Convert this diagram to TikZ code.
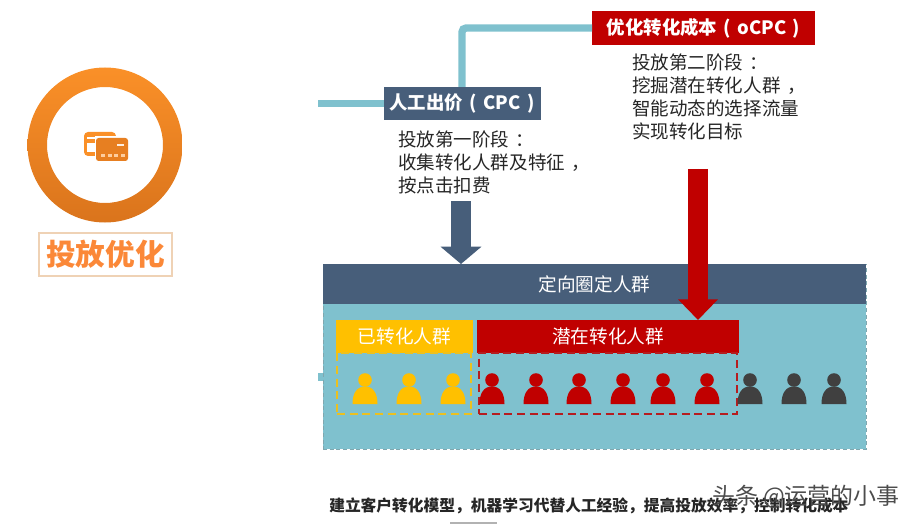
\documentclass[tikz,border=0pt]{standalone}
\usepackage{fontspec}
\setmainfont{Noto Sans CJK SC}
\usetikzlibrary{shapes}
\usetikzlibrary{arrows.meta}
\definecolor{slateblue}{RGB}{71,94,122}
\definecolor{paleteal}{RGB}{127,193,206}
\definecolor{deepred}{RGB}{192,0,0}
\definecolor{amber}{RGB}{255,192,0}
\definecolor{charcoal}{RGB}{64,64,64}
\definecolor{ringtop}{RGB}{250,144,40}
\definecolor{ringlow}{RGB}{218,116,28}
\tikzset{sized/.style 2 args={minimum width=#1*0.75pt, minimum height=#2*0.75pt, inner sep=0pt, outer sep=0pt}}
\tikzstyle{band} = [text=white, font=\fontsize{14pt}{16pt}\selectfont]
\tikzstyle{title} = [text=white, font=\bfseries\fontsize{13.8pt}{16pt}\selectfont]
\tikzstyle{note} = [anchor=north west, align=left, inner sep=0pt, text=black!85, font=\fontsize{13.9pt}{17.25pt}\selectfont]
\tikzstyle{feeder} = [draw=paleteal, line width=5.5pt, rounded corners=3pt]
\newcommand{\person}[2]{
\fill[#2] (#1,380) circle (6.8);
\fill[#2] (#1-12.5,404) .. controls (#1-12.5,393) and (#1-8,386.5) .. (#1,386.5) .. controls (#1+8,386.5) and (#1+12.5,393) .. (#1+12.5,404) -- cycle;
}
\newcommand{\gapped}[1]{\hspace{0.35em}#1}
\begin{document}
\begin{tikzpicture}[x=0.75pt,y=-0.75pt]
\useasboundingbox (0,0) rectangle (917,524);
\path[even odd rule, top color=ringtop, bottom color=ringlow] (105,145) circle (77.5) (105,145) circle (58);
\fill[ringtop, rounded corners=3pt] (84,132) rectangle (116,156);
\fill[white] (87,137) rectangle (113,139);
\fill[white] (87,143) rectangle (95,152);
\fill[white] (94.5,136.5) rectangle (129.5,162.5);
\fill[ringlow!60!ringtop, rounded corners=2pt] (96,138) rectangle (128,161);
\fill[white!85!ringtop] (117,144) rectangle (124,146.5);
\foreach \x in {101,107.5,114,120.5} {
\fill[white!55!ringtop] (\x,154.5) rectangle (\x+4,157);
}
\draw (105.5,254.5) node[sized={133}{43}, draw=orange!30!brown!35!white, line width=0.8pt, text=ringtop!85!red!90!white, font=\bfseries\fontsize{22.2pt}{24pt}\selectfont] (launch) {投放优化};

\draw (462,103.5) node[sized={157}{33}, fill=slateblue, title] (cpc) {人工出价\gapped{(}\gapped{CPC}\gapped{)}};
\draw (703.5,28) node[sized={223}{34}, fill=deepred, title] (ocpc) {优化转化成本\gapped{(}\gapped{oCPC}\gapped{)}};
\coordinate (cpctop) at (462,87);
\coordinate (leftend) at (318,103.5);
\draw[feeder] (cpctop) |- (ocpc.west);
\draw[feeder] (leftend) -- (cpc.west);
\draw (398,130.5) node[note] (cpcnote) {投放第一阶段\gapped{：}\\收集转化人群及特征\gapped{，}\\按点击扣费};
\draw (632,54) node[note] (ocpcnote) {投放第二阶段\gapped{：}\\挖掘潜在转化人群\gapped{，}\\智能动态的选择流量\\实现转化目标};

\draw (594.5,356.5) node[sized={543}{185}, fill=paleteal, draw=paleteal!75!black!80, densely dashed, line width=0.4pt] (panel) {};
\draw (594.5,284) node[sized={543}{40}, fill=slateblue, band] (crowd) {定向圈定人群};
\coordinate (stubend) at (318,377);
\draw[feeder, line width=6pt] (stubend) -- (stubend -| panel.west);

\draw (404.5,336.5) node[sized={137}{33}, fill=amber, band] (converted) {已转化人群};
\draw (608,336.5) node[sized={262}{33}, fill=deepred, band] (potential) {潜在转化人群};
\draw (404,383.5) node[sized={134}{61}, draw=amber!85!paleteal, line width=1.2pt, dash pattern=on 6pt off 3.5pt] (convertedbox) {};
\draw (608,383.5) node[sized={258}{61}, draw=deepred!85!paleteal, line width=1.2pt, dash pattern=on 6pt off 3.5pt] (potentialbox) {};

\foreach \x in {365,409,453} {
\person{\x}{amber}
}
\foreach \x in {492,536,579,623,663,707} {
\person{\x}{deepred}
}
\foreach \x in {750,794,834} {
\person{\x}{charcoal}
}

\coordinate (cpcarrow) at (461,201);
\coordinate (ocpcarrow) at (698,169);
\draw[line width=15pt, draw=slateblue, fill=slateblue, -{Triangle[width=30pt,length=13pt]}] (cpcarrow) -- (cpcarrow |- crowd.north);
\draw[line width=15pt, draw=deepred, fill=deepred, -{Triangle[width=29pt,length=15.5pt]}] (ocpcarrow) -- (ocpcarrow |- potential.north);

\draw (329,505.5) node[anchor=west, inner sep=0pt, text=black!85, font=\bfseries\fontsize{11.8pt}{14pt}\selectfont] (summary) {建立客户转化模型，机器学习代替人工经验，提高投放效率，控制转化成本};
\fill[black!30] (450,522) rectangle (497,524);
\draw (712,497) node[anchor=west, inner sep=0pt, text=black!70, font=\fontsize{17.2pt}{18pt}\selectfont] (watermark) {头条 @运营的小事};
\end{tikzpicture}
\end{document}
